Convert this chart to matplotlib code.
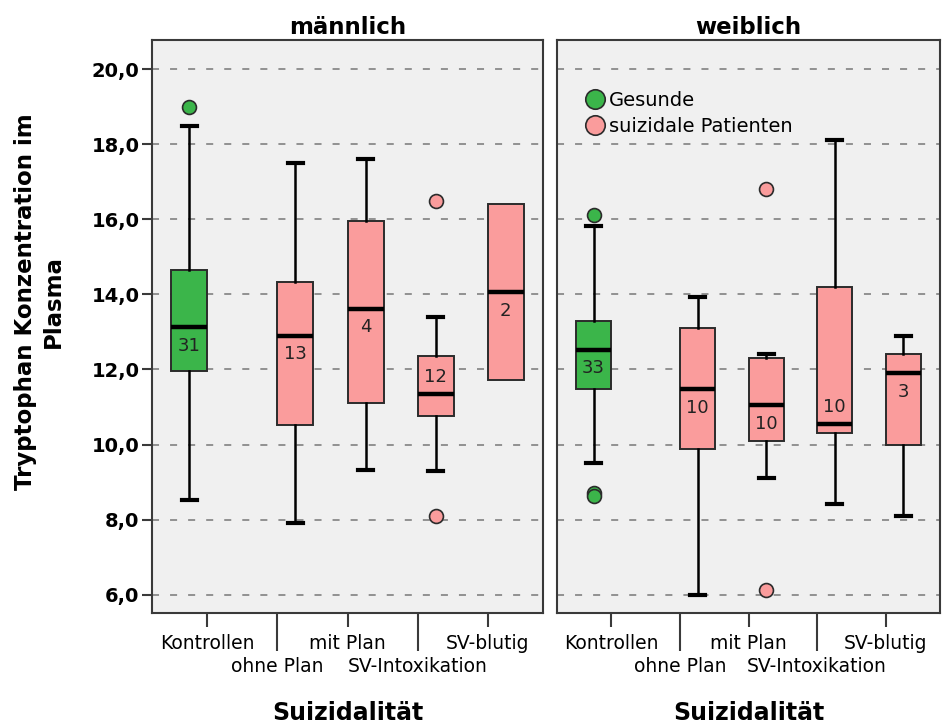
import matplotlib.pyplot as plt
import numpy as np

plt.rcParams['font.family'] = ['DejaVu Sans']

categories = ['Kontrollen', 'ohne Plan', 'mit Plan', 'SV-Intoxikation', 'SV-blutig']
panels = ['männlich', 'weiblich']
legend_labels = ['Gesunde', 'suizidale Patienten']

# five-number summaries
male_q1 = [11.97, 10.51, 11.11, 10.75, 11.71]
male_med = [13.13, 12.90, 13.62, 11.35, 14.06]
male_q3 = [14.65, 14.32, 15.96, 12.35, 16.40]
male_whislo = [8.51, 7.91, 9.31, 9.30, 11.71]
male_whishi = [18.49, 17.50, 17.60, 13.41, 16.40]
male_fliers = [[19.0], [], [], [16.5, 8.1], []]
male_n = [31, 13, 4, 12, 2]

female_q1 = [11.49, 9.89, 10.10, 10.31, 10.00]
female_med = [12.53, 11.48, 11.06, 10.55, 11.90]
female_q3 = [13.30, 13.10, 12.30, 14.21, 12.41]
female_whislo = [9.51, 6.00, 9.12, 8.42, 8.10]
female_whishi = [15.81, 13.92, 12.42, 18.12, 12.90]
female_fliers = [[16.12, 8.71, 8.62], [], [16.81, 6.11], [], []]
female_n = [33, 10, 10, 10, 3]

yticks = [6, 8, 10, 12, 14, 16, 18, 20]

green = '#3bb54a'
pink = '#fa9c9c'
edge = '#2b2b2b'

fig = plt.figure(figsize=(9.42, 7.24), dpi=100)
ax1 = fig.add_axes([152 / 942, 1 - 613 / 724, 391 / 942, 573 / 724])
ax2 = fig.add_axes([557 / 942, 1 - 613 / 724, 383 / 942, 573 / 724])

data = [
    (male_q1, male_med, male_q3, male_whislo, male_whishi, male_fliers, male_n),
    (female_q1, female_med, female_q3, female_whislo, female_whishi, female_fliers, female_n),
]

off = 0.257
for ax, title, (q1, med, q3, wlo, whi, fl, nn) in zip([ax1, ax2], panels, data):
    ax.set_facecolor('#f0f0f0')
    stats = []
    for i in range(len(categories)):
        stats.append(dict(q1=q1[i], med=med[i], q3=q3[i], whislo=wlo[i],
                          whishi=whi[i], fliers=fl[i]))
    x = np.arange(len(categories))
    pos = np.where(x == 0, x - off, x + off)
    cols = [green if i == 0 else pink for i in x]
    res = ax.bxp(stats, positions=pos, widths=0.514, patch_artist=True,
                 capwidths=0.22, manage_ticks=False,
                 boxprops=dict(edgecolor=edge, linewidth=1.4),
                 medianprops=dict(color='black', linewidth=3.2),
                 whiskerprops=dict(color='black', linewidth=1.8),
                 capprops=dict(color='black', linewidth=3),
                 flierprops=dict(marker='o', markersize=10, markeredgecolor=edge,
                                 markeredgewidth=1.2))
    for b, c in zip(res['boxes'], cols):
        b.set_facecolor(c)
    for f, c in zip(res['fliers'], cols):
        f.set_markerfacecolor(c)
    # no caps where the whisker collapses onto the box
    for i in x:
        if wlo[i] >= q1[i]:
            res['caps'][2 * i].set_visible(False)
        if whi[i] <= q3[i]:
            res['caps'][2 * i + 1].set_visible(False)
    for i in x:
        ty = med[i] - 0.5 if med[i] - q1[i] > 0.8 else med[i] + 0.45
        ax.text(pos[i], ty, str(nn[i]), ha='center', va='center', fontsize=13,
                color='#222222', zorder=5)

    ax.set_ylim(5.51, 20.78)
    ax.set_xlim(-0.79, 4.79)
    ax.set_yticks(yticks)
    ax.yaxis.grid(True, linestyle=(0, (3.9, 6.1)), color='#8a8a8a', linewidth=1.3)
    ax.set_axisbelow(True)
    for s in ax.spines.values():
        s.set_color('#3a3a3a')
        s.set_linewidth(1.5)
    ax.set_xticks(x[::2])
    ax.set_xticklabels(categories[::2], fontsize=13.5)
    ax.set_xticks(x[1::2], minor=True)
    ax.set_xticklabels(categories[1::2], minor=True, fontsize=13.5)
    ax.tick_params(axis='x', which='major', length=10, width=1.5, pad=5, color='#3a3a3a')
    ax.tick_params(axis='x', which='minor', length=27, width=1.5, pad=5, color='#3a3a3a')
    ax.set_title(title, fontsize=16.5, fontweight='bold', pad=4)
    ax.set_xlabel('Suizidalität', fontsize=17, fontweight='bold', labelpad=18)

ax1.set_yticklabels([f'{v:.1f}'.replace('.', ',') for v in yticks],
                    fontsize=14, fontweight='bold')
ax1.tick_params(axis='y', length=7, width=1.5, pad=2, color='#3a3a3a')
ax2.tick_params(axis='y', left=False, labelleft=False)

fig.text(0.042, 0.583, 'Tryptophan Konzentration im\nPlasma', rotation=90,
         ha='center', va='center', multialignment='center', fontsize=16.5,
         fontweight='bold', linespacing=1.25)

h1 = ax2.plot([], [], 'o', markersize=14, markerfacecolor=green, markeredgecolor=edge,
              markeredgewidth=1.2)[0]
h2 = ax2.plot([], [], 'o', markersize=14, markerfacecolor=pink, markeredgecolor=edge,
              markeredgewidth=1.2)[0]
ax2.legend([h1, h2], legend_labels, loc='upper left', bbox_to_anchor=(0.04, 0.925),
           frameon=False, fontsize=14, handletextpad=0.0, handlelength=1.5,
           labelspacing=0.35, borderaxespad=0)

fig.savefig('out.png', dpi=100)
